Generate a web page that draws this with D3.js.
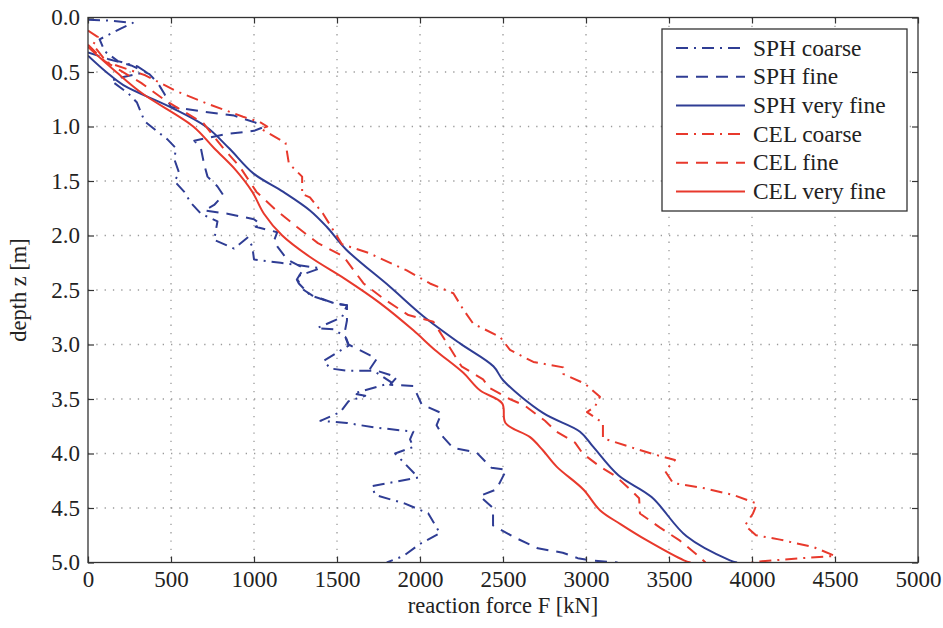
<!DOCTYPE html>
<html><head><meta charset="utf-8">
<script src="https://cdn.jsdelivr.net/npm/d3@7/dist/d3.min.js"></script>
<style>body{margin:0;background:#fff}svg{display:block}</style>
</head><body>
<svg id="chart" width="943" height="628"></svg>
<script>
// ---- data (depth z [m], reaction force F [kN]) ----
const forceTicks = [0, 500, 1000, 1500, 2000, 2500, 3000, 3500, 4000, 4500, 5000];
const depthTicks = [0, 0.5, 1.0, 1.5, 2.0, 2.5, 3.0, 3.5, 4.0, 4.5, 5.0];
const seriesNames = ["SPH coarse", "SPH fine", "SPH very fine", "CEL coarse", "CEL fine", "CEL very fine"];

const sphCoarse = [[0.02,0],[0.03,150],[0.05,270],[0.1,200],[0.2,70],[0.31,100],[0.4,180],[0.45,300],[0.5,350],[0.55,200],[0.58,140],[0.7,245],[0.78,295],[0.95,340],[1.0,380],[1.12,480],[1.2,530],[1.3,520],[1.43,550],[1.5,520],[1.6,580],[1.7,620],[1.8,680],[1.87,780],[2.04,760],[2.12,880],[2.02,960],[2.1,990],[2.22,1000],[2.25,1160],[2.3,1400],[2.38,1250],[2.44,1270],[2.55,1340],[2.62,1480],[2.64,1560],[2.75,1530],[2.85,1380],[2.86,1480],[2.93,1550],[3.01,1570],[3.15,1420],[3.22,1460],[3.24,1560],[3.24,1720],[3.35,1830],[3.45,1600],[3.47,1670],[3.52,1570],[3.62,1520],[3.7,1400],[3.72,1560],[3.76,1720],[3.8,1960],[3.87,1940],[3.94,1960],[4.0,1850],[4.22,1990],[4.3,1710],[4.38,1730],[4.46,1910],[4.55,2050],[4.73,2120],[4.83,2000],[4.94,1900],[5.0,1800]];

const sphFine = [[0.32,0],[0.38,120],[0.44,260],[0.52,370],[0.6,420],[0.7,460],[0.82,500],[0.86,680],[0.9,880],[0.97,1020],[1.01,1050],[1.04,1000],[1.07,830],[1.13,640],[1.2,680],[1.35,700],[1.46,720],[1.55,780],[1.63,815],[1.72,760],[1.77,700],[1.8,840],[1.85,1000],[1.9,1040],[1.92,1010],[1.97,1140],[2.05,1120],[2.1,1140],[2.22,1200],[2.3,1300],[2.4,1260],[2.5,1300],[2.55,1350],[2.63,1500],[2.64,1560],[2.74,1560],[2.78,1560],[2.9,1545],[3.0,1570],[3.1,1700],[3.13,1740],[3.22,1700],[3.3,1860],[3.37,1820],[3.38,1960],[3.55,2010],[3.63,2130],[3.74,2100],[3.85,2140],[3.95,2200],[3.99,2340],[4.13,2430],[4.15,2520],[4.24,2490],[4.33,2460],[4.39,2360],[4.5,2440],[4.66,2440],[4.77,2570],[4.87,2710],[4.91,2860],[4.96,2950],[4.98,3030],[5.0,3190]];

const sphVeryFine = [[0.35,0],[0.5,110],[0.62,213],[0.82,494],[1.0,710],[1.2,850],[1.43,996],[1.6,1177],[1.77,1337],[1.92,1438],[2.13,1556],[2.47,1819],[2.74,2020],[2.99,2241],[3.2,2442],[3.33,2502],[3.63,2743],[3.8,2964],[3.94,3044],[4.2,3195],[4.4,3395],[4.76,3606],[4.98,3867],[5.0,3910]];

const celCoarse = [[0.12,0],[0.18,60],[0.25,30],[0.41,114],[0.53,345],[0.67,524],[0.8,735],[0.91,934],[0.96,1036],[1.0,1080],[1.02,1040],[1.15,1190],[1.34,1210],[1.46,1290],[1.62,1290],[1.65,1337],[1.8,1416],[2.08,1530],[2.16,1690],[2.32,1920],[2.44,2060],[2.53,2201],[2.68,2261],[2.81,2321],[2.93,2482],[3.05,2542],[3.16,2683],[3.21,2863],[3.27,2863],[3.36,2994],[3.48,3084],[3.57,3054],[3.62,3006],[3.72,3102],[3.86,3102],[3.94,3265],[4.01,3416],[4.06,3536],[4.16,3476],[4.27,3524],[4.32,3717],[4.38,3886],[4.46,4030],[4.55,4006],[4.66,3958],[4.75,4024],[4.79,4169],[4.86,4373],[4.94,4500],[4.96,4307],[4.99,4048],[5.0,3990]];

const celFine = [[0.25,0],[0.4,100],[0.6,320],[0.76,465],[0.97,695],[1.2,815],[1.37,915],[1.6,1015],[1.77,1135],[1.92,1257],[2.07,1385],[2.19,1538],[2.44,1660],[2.58,1780],[2.73,1930],[2.79,2080],[3.03,2180],[3.2,2250],[3.32,2380],[3.4,2420],[3.5,2540],[3.56,2630],[3.7,2753],[3.8,2823],[3.9,2934],[4.0,2980],[4.12,3084],[4.21,3180],[4.3,3245],[4.41,3320],[4.55,3325],[4.68,3446],[4.8,3566],[4.93,3669],[5.0,3720]];

const celVeryFine = [[0.27,0],[0.5,170],[0.7,330],[1.0,634],[1.2,760],[1.4,890],[1.6,990],[1.8,1060],[2.0,1170],[2.2,1340],[2.4,1550],[2.62,1759],[2.87,1960],[3.05,2090],[3.26,2261],[3.42,2361],[3.54,2495],[3.72,2515],[3.85,2663],[3.97,2740],[4.12,2823],[4.33,2984],[4.52,3084],[4.65,3210],[4.8,3370],[4.98,3590],[5.0,3630]];

// ---- rendering ----
const BLUE = "#2f3d94", RED = "#e8392c";
const styles = [
  {color: BLUE, dash: "12,6,2,6", smooth: false},
  {color: BLUE, dash: "12,8", smooth: false},
  {color: BLUE, dash: null, smooth: true},
  {color: RED, dash: "12,6,2,6", smooth: false},
  {color: RED, dash: "12,8", smooth: false},
  {color: RED, dash: null, smooth: true}
];
const allSeries = [sphCoarse, sphFine, sphVeryFine, celCoarse, celFine, celVeryFine];

const L = 88, R = 918, T = 17.5, B = 562.5;
const FONT = "'Liberation Serif','Times New Roman',serif";
const svg = d3.select("#chart");
const x = d3.scaleLinear().domain([0, 5000]).range([L, R]);
const y = d3.scaleLinear().domain([0, 5]).range([T, B]);

// grid
const grid = svg.append("g").attr("stroke", "#9a9a9a").attr("stroke-width", 1.3).attr("stroke-dasharray", "1.3,7");
grid.selectAll(".gx").data(forceTicks.slice(1, -1)).join("line")
  .attr("x1", d => x(d)).attr("x2", d => x(d)).attr("y1", T).attr("y2", B);
grid.selectAll(".gy").data(depthTicks.slice(1, -1)).join("line")
  .attr("y1", d => y(d)).attr("y2", d => y(d)).attr("x1", L).attr("x2", R);

// data lines
svg.append("clipPath").attr("id", "clip").append("rect")
  .attr("x", L).attr("y", T).attr("width", R - L).attr("height", B - T);
const lineLin = d3.line().x(d => x(d[1])).y(d => y(d[0]));
const lineSmooth = d3.line().x(d => x(d[1])).y(d => y(d[0])).curve(d3.curveCatmullRom.alpha(0.5));
const lines = svg.append("g").attr("clip-path", "url(#clip)");
allSeries.forEach((s, i) => {
  lines.append("path").attr("d", (styles[i].smooth ? lineSmooth : lineLin)(s)).attr("fill", "none")
    .attr("stroke", styles[i].color).attr("stroke-width", 2)
    .attr("stroke-linejoin", "round")
    .attr("stroke-dasharray", styles[i].dash);
});

// axes
const axColor = "#333";
function styleAxis(g) {
  g.select(".domain").remove();
  g.selectAll(".tick line").attr("stroke", axColor).attr("stroke-width", 1.2);
  g.selectAll("text").attr("font-family", FONT).attr("font-size", 23).attr("fill", "#222");
}
svg.append("g").attr("transform", `translate(0,${B})`)
  .call(d3.axisBottom(x).tickValues(forceTicks).tickSizeInner(-6).tickSizeOuter(0).tickPadding(8).tickFormat(d3.format("d")))
  .call(styleAxis);
svg.append("g").attr("transform", `translate(0,${T})`)
  .call(d3.axisTop(x).tickValues(forceTicks).tickSizeInner(-6).tickSizeOuter(0).tickFormat(""))
  .call(styleAxis);
svg.append("g").attr("transform", `translate(${L},0)`)
  .call(d3.axisLeft(y).tickValues(depthTicks).tickSizeInner(-6).tickSizeOuter(0).tickPadding(8).tickFormat(d3.format(".1f")))
  .call(styleAxis);
svg.append("g").attr("transform", `translate(${R},0)`)
  .call(d3.axisRight(y).tickValues(depthTicks).tickSizeInner(-6).tickSizeOuter(0).tickFormat(""))
  .call(styleAxis);
svg.append("rect").attr("x", L).attr("y", T).attr("width", R - L).attr("height", B - T)
  .attr("fill", "none").attr("stroke", axColor).attr("stroke-width", 1.3);

// axis titles
svg.append("text").attr("x", (L + R) / 2).attr("y", 613).attr("text-anchor", "middle")
  .attr("font-family", FONT).attr("font-size", 22.5).attr("fill", "#222").text("reaction force F [kN]");
svg.append("text").attr("transform", `translate(26,${(T + B) / 2}) rotate(-90)`).attr("text-anchor", "middle")
  .attr("font-family", FONT).attr("font-size", 22.5).attr("fill", "#222").text("depth z [m]");

// legend
const lg = svg.append("g");
lg.append("rect").attr("x", 662).attr("y", 29).attr("width", 245).attr("height", 182)
  .attr("fill", "#fff").attr("stroke", axColor).attr("stroke-width", 1.3);
seriesNames.forEach((name, i) => {
  const cy = 48 + i * 28.7;
  lg.append("line").attr("x1", 676).attr("x2", 745).attr("y1", cy).attr("y2", cy)
    .attr("stroke", styles[i].color).attr("stroke-width", 2).attr("stroke-dasharray", styles[i].dash);
  lg.append("text").attr("x", 753).attr("y", cy + 7.5).attr("font-family", FONT).attr("font-size", 23.4)
    .attr("fill", "#222").text(name);
});
</script>
</body></html>
